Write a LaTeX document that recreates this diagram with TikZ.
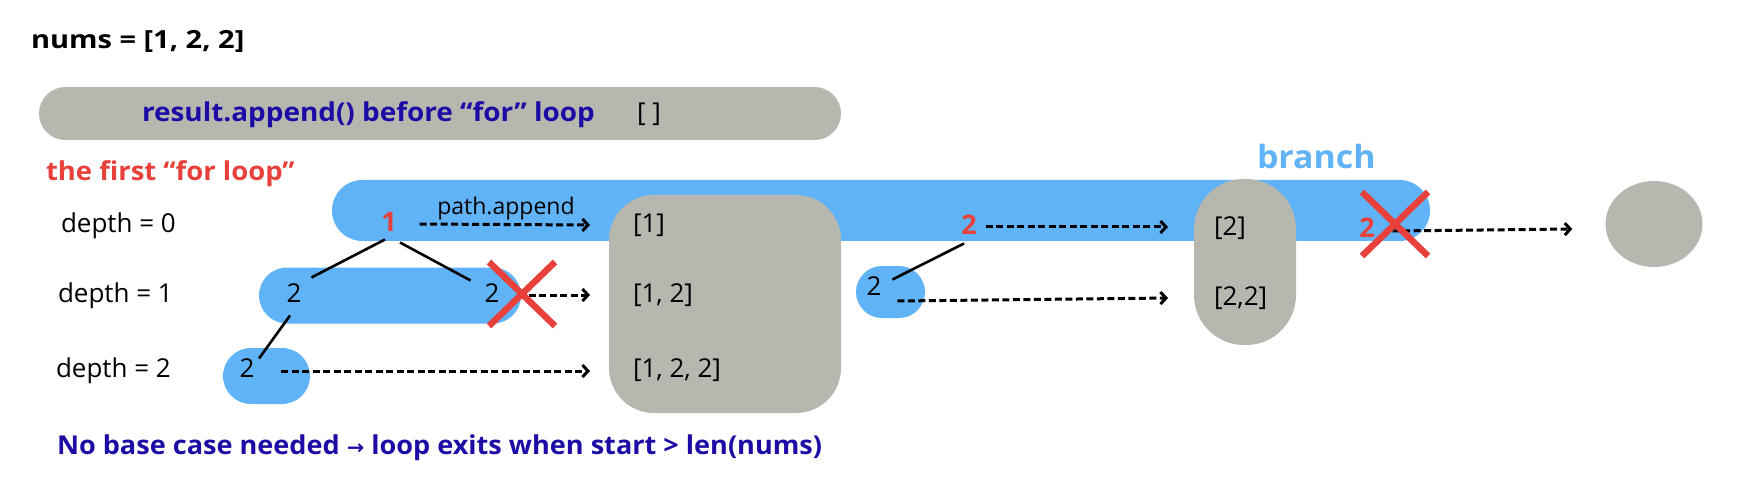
\documentclass[tikz,border=0pt]{standalone}
\usepackage{fontspec}
\usepackage{graphicx}
\setmainfont{Open Sans}
\newfontfamily\djv{DejaVu Sans}
\usetikzlibrary{arrows.meta,shapes.geometric}
\definecolor{cblue}{RGB}{97,179,248}
\definecolor{cgrey}{RGB}{182,183,174}
\definecolor{cred}{RGB}{232,64,58}
\definecolor{cnavy}{RGB}{28,12,165}
\tikzset{
  pill/.style={rectangle, inner sep=0pt, outer sep=0pt, draw=none},
  bluepill/.style={pill, fill=cblue},
  greypill/.style={pill, fill=cgrey},
  txt/.style={inner sep=1pt, outer sep=0pt, text height=19pt, text depth=6pt, font=\fontsize{26}{30}\selectfont},
  btxt/.style={txt, font=\fontsize{26}{30}\selectfont\bfseries},
  rnum/.style={btxt, text=cred, font=\fontsize{27}{30}\selectfont\bfseries},
  darr/.style={line width=3pt, dash pattern=on 7pt off 3.5pt, -{Straight Barb[length=5.5pt,width=12pt]}},
  tline/.style={line width=2.6pt, black},
  xbox/.style={rectangle, inner sep=0pt, outer sep=0pt, minimum width=66pt, minimum height=64pt},
  xmark/.style={line width=6.5pt, cred}
}
\begin{document}
\begin{tikzpicture}[x=1pt,y=-1pt]
\useasboundingbox (0,0) rectangle (1744,486);
% background shapes
\node[greypill, rounded corners=26.5pt, minimum width=802pt, minimum height=53pt] (resbar) at (440,113.5) {};
\node[bluepill, rounded corners=30.5pt, minimum width=1098pt, minimum height=61pt] (bar0) at (881,210.5) {};
\node[greypill, rounded corners=45pt, minimum width=232pt, minimum height=218pt] (box1) at (725,304) {};
\node[greypill, rounded corners=50pt, minimum width=102pt, minimum height=166pt] (box2) at (1245,262) {};
\node[bluepill, rounded corners=28pt, minimum width=262pt, minimum height=56pt] (bar1) at (390,295.5) {};
\node[bluepill, rounded corners=28pt, minimum width=87pt, minimum height=56pt] (bar2) at (266.5,376) {};
\node[bluepill, rounded corners=26pt, minimum width=69pt, minimum height=52pt] (bar1b) at (890.5,292) {};
\node[ellipse, fill=cgrey, inner sep=0pt, minimum width=97pt, minimum height=86pt] (ell) at (1654,224) {};
% titles
\node[btxt, anchor=west, font=\fontsize{25}{30}\selectfont\bfseries] (nums) at (30,42) {\scalebox{1.16}[1]{nums = [1, 2, 2]}};
\node[btxt, anchor=west, text=cnavy] (restext) at (141,115) {\scalebox{1.073}[1]{result.append() before “for” loop}};
\node[txt, anchor=west] (empty) at (636,115) {[ ]};
\node[btxt, anchor=west, text=cred] (firstloop) at (45,174) {\scalebox{1.056}[1]{the first “for loop”}};
\node[btxt, anchor=west, text=cblue, font=\fontsize{32}{36}\selectfont\bfseries] (branch) at (1256,162) {\scalebox{1.06}[1]{branch}};
\node[btxt, anchor=west, text=cnavy] (note) at (56,448) {\scalebox{1.042}[1]{No base case needed {\djv\fontsize{20}{24}\selectfont →} loop exits when start > len(nums)}};
% depth labels
\node[txt, anchor=west] (dep0) at (60,226) {depth = 0};
\node[txt, anchor=west] (dep1) at (57,296) {depth = 1};
\node[txt, anchor=west] (dep2) at (55,371) {depth = 2};
% tree numbers
\node[rnum] (n1) at (389,225) {1};
\node[txt] (d1a) at (294,296) {2};
\node[txt] (d1b) at (492,296) {2};
\node[txt] (d2) at (247,371) {2};
\node[rnum] (r2) at (969,228) {2};
\node[txt] (s2) at (874,289) {2};
\node[rnum] (r2x) at (1367,231) {2};
% lists
\node[txt, anchor=west] (l1) at (632,226) {[1]};
\node[txt, anchor=west] (l12) at (632,296) {[1, 2]};
\node[txt, anchor=west] (l122) at (632,371) {[1, 2, 2]};
\node[txt, anchor=west] (l2) at (1213,229) {[2]};
\node[txt, anchor=west] (l22) at (1213,299) {[2,2]};
\node[txt, font=\fontsize{23}{27}\selectfont] (pa) at (506,208) {path.append};
% tree lines
\draw[tline] ([shift={(-4,1)}]n1.south) -- ([shift={(9,-5)}]d1a.north east);
\draw[tline] ([shift={(11,4)}]n1.south) -- ([shift={(-13,-2)}]d1b.north west);
\draw[tline] ([shift={(-4,6)}]d1a.south) -- ([shift={(12,1)}]d2.north);
\draw[tline] ([shift={(-5,2)}]r2.south) -- ([shift={(10,4)}]s2.north east);
% arrows
\draw[darr] ([shift={(22,-1)}]n1.east) -- ([shift={(-42,-1)}]l1.west);
\draw[darr] ([shift={(18,-1)}]d1b.east) -- ([shift={(-42,-1)}]l12.west);
\draw[darr] ([shift={(26,0)}]d2.east) -- ([shift={(-42,0)}]l122.west);
\draw[darr] ([shift={(8,-1)}]r2.east) -- ([shift={(-45,-2)}]l2.west);
\draw[darr] ([shift={(15,12)}]s2.east) -- ([shift={(-45,-1)}]l22.west);
\draw[darr] ([shift={(17,0)}]r2x.east) -- ([shift={(-33,5)}]ell.west);
% crosses
\node[xbox] (x1) at (522,294) {};
\draw[xmark] (x1.north west) -- (x1.south east) (x1.north east) -- (x1.south west);
\node[xbox] (x2) at (1395,224) {};
\draw[xmark] (x2.north west) -- (x2.south east) (x2.north east) -- (x2.south west);
\end{tikzpicture}
\end{document}
